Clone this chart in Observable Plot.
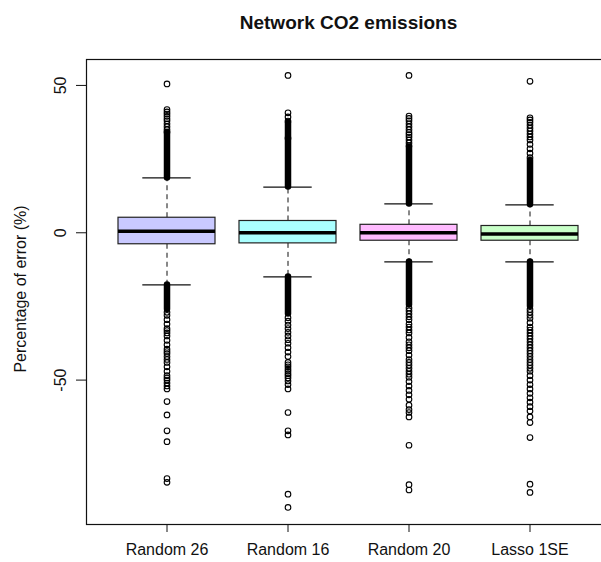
<!DOCTYPE html>
<html>
<head>
<meta charset="utf-8">
<script src="https://cdn.jsdelivr.net/npm/d3@7"></script>
<script src="https://cdn.jsdelivr.net/npm/@observablehq/plot@0.6"></script>
<style>
  html, body { margin: 0; padding: 0; background: #fff; overflow: hidden; }
  #chart svg { display: block; }
</style>
</head>
<body>
<div id="chart"></div>
<script>
const title = "Network CO2 emissions";
const yLabel = "Percentage of error (%)";
const categories = ["Random 26", "Random 16", "Random 20", "Lasso 1SE"];
const boxColors = ["#c9c9ff", "#aaffff", "#ffbbff", "#c8ffc8"];
const q1 = [-3.9, -3.6, -2.7, -2.7];
const median = [0.5, 0.0, 0.0, -0.4];
const q3 = [5.1, 4.0, 2.7, 2.3];
const whiskerLow = [-17.7, -15.0, -9.9, -9.9];
const whiskerHigh = [18.6, 15.5, 9.8, 9.5];
// ranges where outliers overlap into a solid column [from, to]
const denseHighFrom = [18.6, 15.5, 9.8, 9.5];
const denseHighTo = [34.0, 37.3, 29.0, 24.5];
const denseLowFrom = [-17.7, -15.0, -9.9, -9.9];
const denseLowTo = [-26.0, -27.6, -24.5, -25.0];
const yTicks = [-50, 0, 50];

const outliersRandom26 = [50.5, 41.8, 41, 40.3, 39.5, 38.7, 38, 37, 36, 35, 34.2,
  -27, -28, -29.5, -31, -32.5, -33.2, -34, -35, -36.5, -38, -39.5, -40.3, -41, -42, -43, -44,
  -45.5, -47, -48.5, -49.3, -50, -51, -52, -53, -57.3, -61.8, -67.2, -70.9, -83.4, -84.7];
const outliersRandom16 = [53.4, 40.7, 39.3, 37.9, 32.1,
  -28.8, -30, -31.3, -32.5, -33.8, -35, -36.3, -37.5, -39, -40.5, -42, -44, -44.8, -45.5,
  -46.3, -47, -47.8, -48.5, -49.3, -50.3, -51.5, -53, -61, -67.2, -68.6, -88.7, -93.2];
const outliersRandom20 = [53.4, 39.6, 38.8, 38, 37, 36, 35, 34, 33.3, 32.5, 31.5, 30.5, 29.5,
  -25.5, -26.5, -27.5, -28.5, -29.5, -31, -32, -33, -34, -35.5, -37, -38, -39, -40, -41.5, -43,
  -44, -45, -46, -47, -48, -49, -50.5, -52, -53.5, -55, -56.5, -58.5, -60, -61, -62.5, -72.1,
  -85.5, -87.3];
const outliersLasso1SE = [51.4, 39, 38.3, 37.5, 36.5, 35.5, 34.5, 33.5, 32.5, 31.5, 30, 28.5, 27, 25.5,
  -26, -27, -28, -29, -30.5, -32, -33, -34, -35, -36, -37, -38, -39, -40, -41, -42, -43, -44,
  -45, -46, -47, -48.5, -50, -51.5, -53, -54.5, -56, -57.5, -59, -60.5, -62.5, -64.4, -69.5,
  -85.3, -88.1];

const outlierLists = [outliersRandom26, outliersRandom16, outliersRandom20, outliersLasso1SE];

const boxes = categories.map((name, i) => ({
  name, color: boxColors[i], q1: q1[i], median: median[i], q3: q3[i],
  lo: whiskerLow[i], hi: whiskerHigh[i]
}));
const dense = categories.flatMap((name, i) => [
  {name, from: denseHighFrom[i], to: denseHighTo[i]},
  {name, from: denseLowFrom[i], to: denseLowTo[i]}
]);
const outliers = categories.flatMap((name, i) => outlierLists[i].map(value => ({name, value})));

const W = 601, H = 562;
const mL = 86, mR = -9, mT = 59, mB = 38;
const step = (W - mL - mR) / (categories.length - 0.2 + 2 * 0.2564);
const bandW = step * 0.8;
const font = "'Liberation Sans', Arial, sans-serif";

const chart = Plot.plot({
  width: W, height: H,
  marginLeft: mL, marginRight: mR, marginTop: mT, marginBottom: mB,
  style: {fontFamily: font, background: "#fff", color: "#111"},
  x: {type: "band", domain: categories, paddingInner: 0.2, paddingOuter: 0.2564, label: null},
  y: {domain: [-99, 58.8], label: null},
  color: {type: "identity"},
  marks: [
    Plot.axisX({tickSize: 8, tickPadding: 11, fontSize: 16, label: null, stroke: "#111"}),
    Plot.axisY({ticks: yTicks, tickSize: 10, tickFormat: () => "", label: null, stroke: "#111"}),
    Plot.text(yTicks, {y: d => d, frameAnchor: "left", dx: -26, rotate: -90, text: d => String(d),
      fontSize: 16, textAnchor: "middle", lineAnchor: "middle", fill: "#111"}),
    Plot.text([yLabel], {frameAnchor: "left", dx: -66, dy: -3, rotate: -90, fontSize: 16,
      textAnchor: "middle", lineAnchor: "middle", fill: "#111"}),
    Plot.text([title], {frameAnchor: "top", dy: -31, fontSize: 19, fontWeight: "bold",
      textAnchor: "middle", lineAnchor: "bottom", fill: "#111"}),
    Plot.ruleX(boxes, {x: "name", y1: "q3", y2: "hi", stroke: "#111", strokeDasharray: "5,4"}),
    Plot.ruleX(boxes, {x: "name", y1: "q1", y2: "lo", stroke: "#111", strokeDasharray: "5,4"}),
    Plot.tickY(boxes, {x: "name", y: "hi", stroke: "#111", strokeWidth: 1.3, insetLeft: bandW / 4, insetRight: bandW / 4}),
    Plot.tickY(boxes, {x: "name", y: "lo", stroke: "#111", strokeWidth: 1.3, insetLeft: bandW / 4, insetRight: bandW / 4}),
    Plot.barY(boxes, {x: "name", y1: "q1", y2: "q3", fill: "color", stroke: "#222", strokeWidth: 1.2}),
    Plot.tickY(boxes, {x: "name", y: "median", stroke: "#000", strokeWidth: 3.5}),
    Plot.ruleX(dense, {x: "name", y1: "from", y2: "to", stroke: "#000", strokeWidth: 6.5, strokeLinecap: "round"}),
    Plot.dot(outliers, {x: "name", y: "value", r: 2.8, stroke: "#000", strokeWidth: 1.1, fill: "none"}),
    Plot.frame({stroke: "#111", strokeWidth: 1.2})
  ]
});
document.getElementById("chart").appendChild(chart);
</script>
</body>
</html>
